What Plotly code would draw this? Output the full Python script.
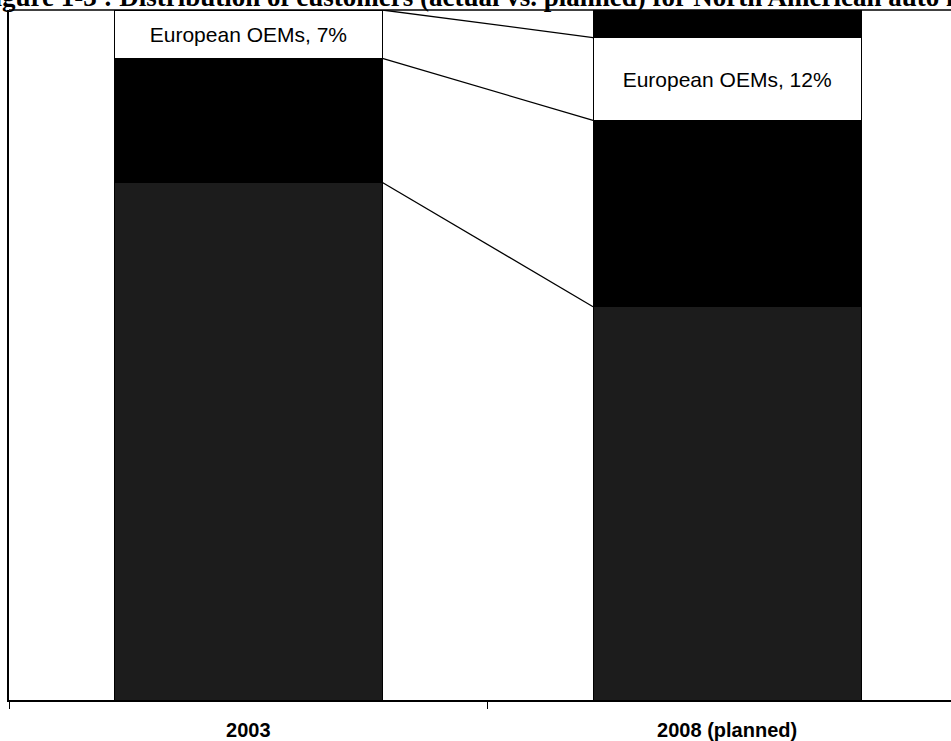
import plotly.graph_objects as go

categories = ["2003", "2008 (planned)"]
series_names = ["Big 3", "Japanese OEMs", "European OEMs", "Others"]
big3 = [75, 57]
japanese = [18, 27]
european = [7, 12]
others = [0, 4]
european_labels = ["European OEMs, 7%", "European OEMs, 12%"]
title_text = "Figure 1-3 : Distribution of customers (actual vs. planned) for North American auto makers"

BAR_W = 0.56
series = [big3, japanese, european, others]
fills = ["#1c1c1c", "#000000", "#ffffff", "#000000"]

fig = go.Figure()
for name, vals, col in zip(series_names, series, fills):
    kw = {}
    if name == "European OEMs":
        kw = dict(text=european_labels, textposition="inside", insidetextanchor="middle",
                  textfont=dict(family="Liberation Sans, Arial", size=21, color="black"),
                  constraintext="none")
    fig.add_trace(go.Bar(x=categories, y=vals, name=name, width=BAR_W,
                         marker=dict(color=col, line=dict(color="black", width=1)),
                         **kw))

# series lines connecting cumulative segment tops
cum = [0, 0]
for vals in series[:-1]:
    cum = [c + v for c, v in zip(cum, vals)]
    fig.add_trace(go.Scatter(x=[0 + BAR_W / 2, 1 - BAR_W / 2], y=list(cum), mode="lines",
                             line=dict(color="black", width=1.3), xaxis="x2",
                             showlegend=False, hoverinfo="skip"))

xr = [-0.5, 1 + (951 - 727) / 479]
fig.update_layout(
    width=951, height=741,
    margin=dict(l=9, r=0, t=10, b=41),
    paper_bgcolor="white", plot_bgcolor="white",
    barmode="stack", showlegend=False,
    font=dict(family="Liberation Sans, Arial", color="black"),
    xaxis=dict(type="category", range=xr, showline=True, linecolor="black", linewidth=2,
               ticks="outside", tickson="boundaries", ticklen=7, tickcolor="black", tickwidth=1,
               tickfont=dict(family="Liberation Sans, Arial", size=20, color="black", weight="bold"),
               ticklabelstandoff=11, showgrid=False, zeroline=False),
    xaxis2=dict(overlaying="x", range=xr, visible=False),
    yaxis=dict(range=[0, 100], showline=True, linecolor="black", linewidth=1.5,
               showticklabels=False, ticks="", showgrid=False, zeroline=False),
    shapes=[dict(type="line", xref="paper", yref="paper", x0=0, x1=1, y0=1, y1=1,
                 line=dict(color="black", width=1.5))],
    annotations=[dict(text="<b>" + title_text + "</b>", xref="paper", yref="paper",
                      x=-33 / 942, y=1, xanchor="left", yanchor="bottom", yshift=-4,
                      showarrow=False,
                      font=dict(family="Liberation Serif, Times New Roman", size=27, color="black"))],
)

fig.write_html("out.html", config={"displayModeBar": False},
               post_script="document.body.style.margin='0';document.body.style.overflow='hidden';")
